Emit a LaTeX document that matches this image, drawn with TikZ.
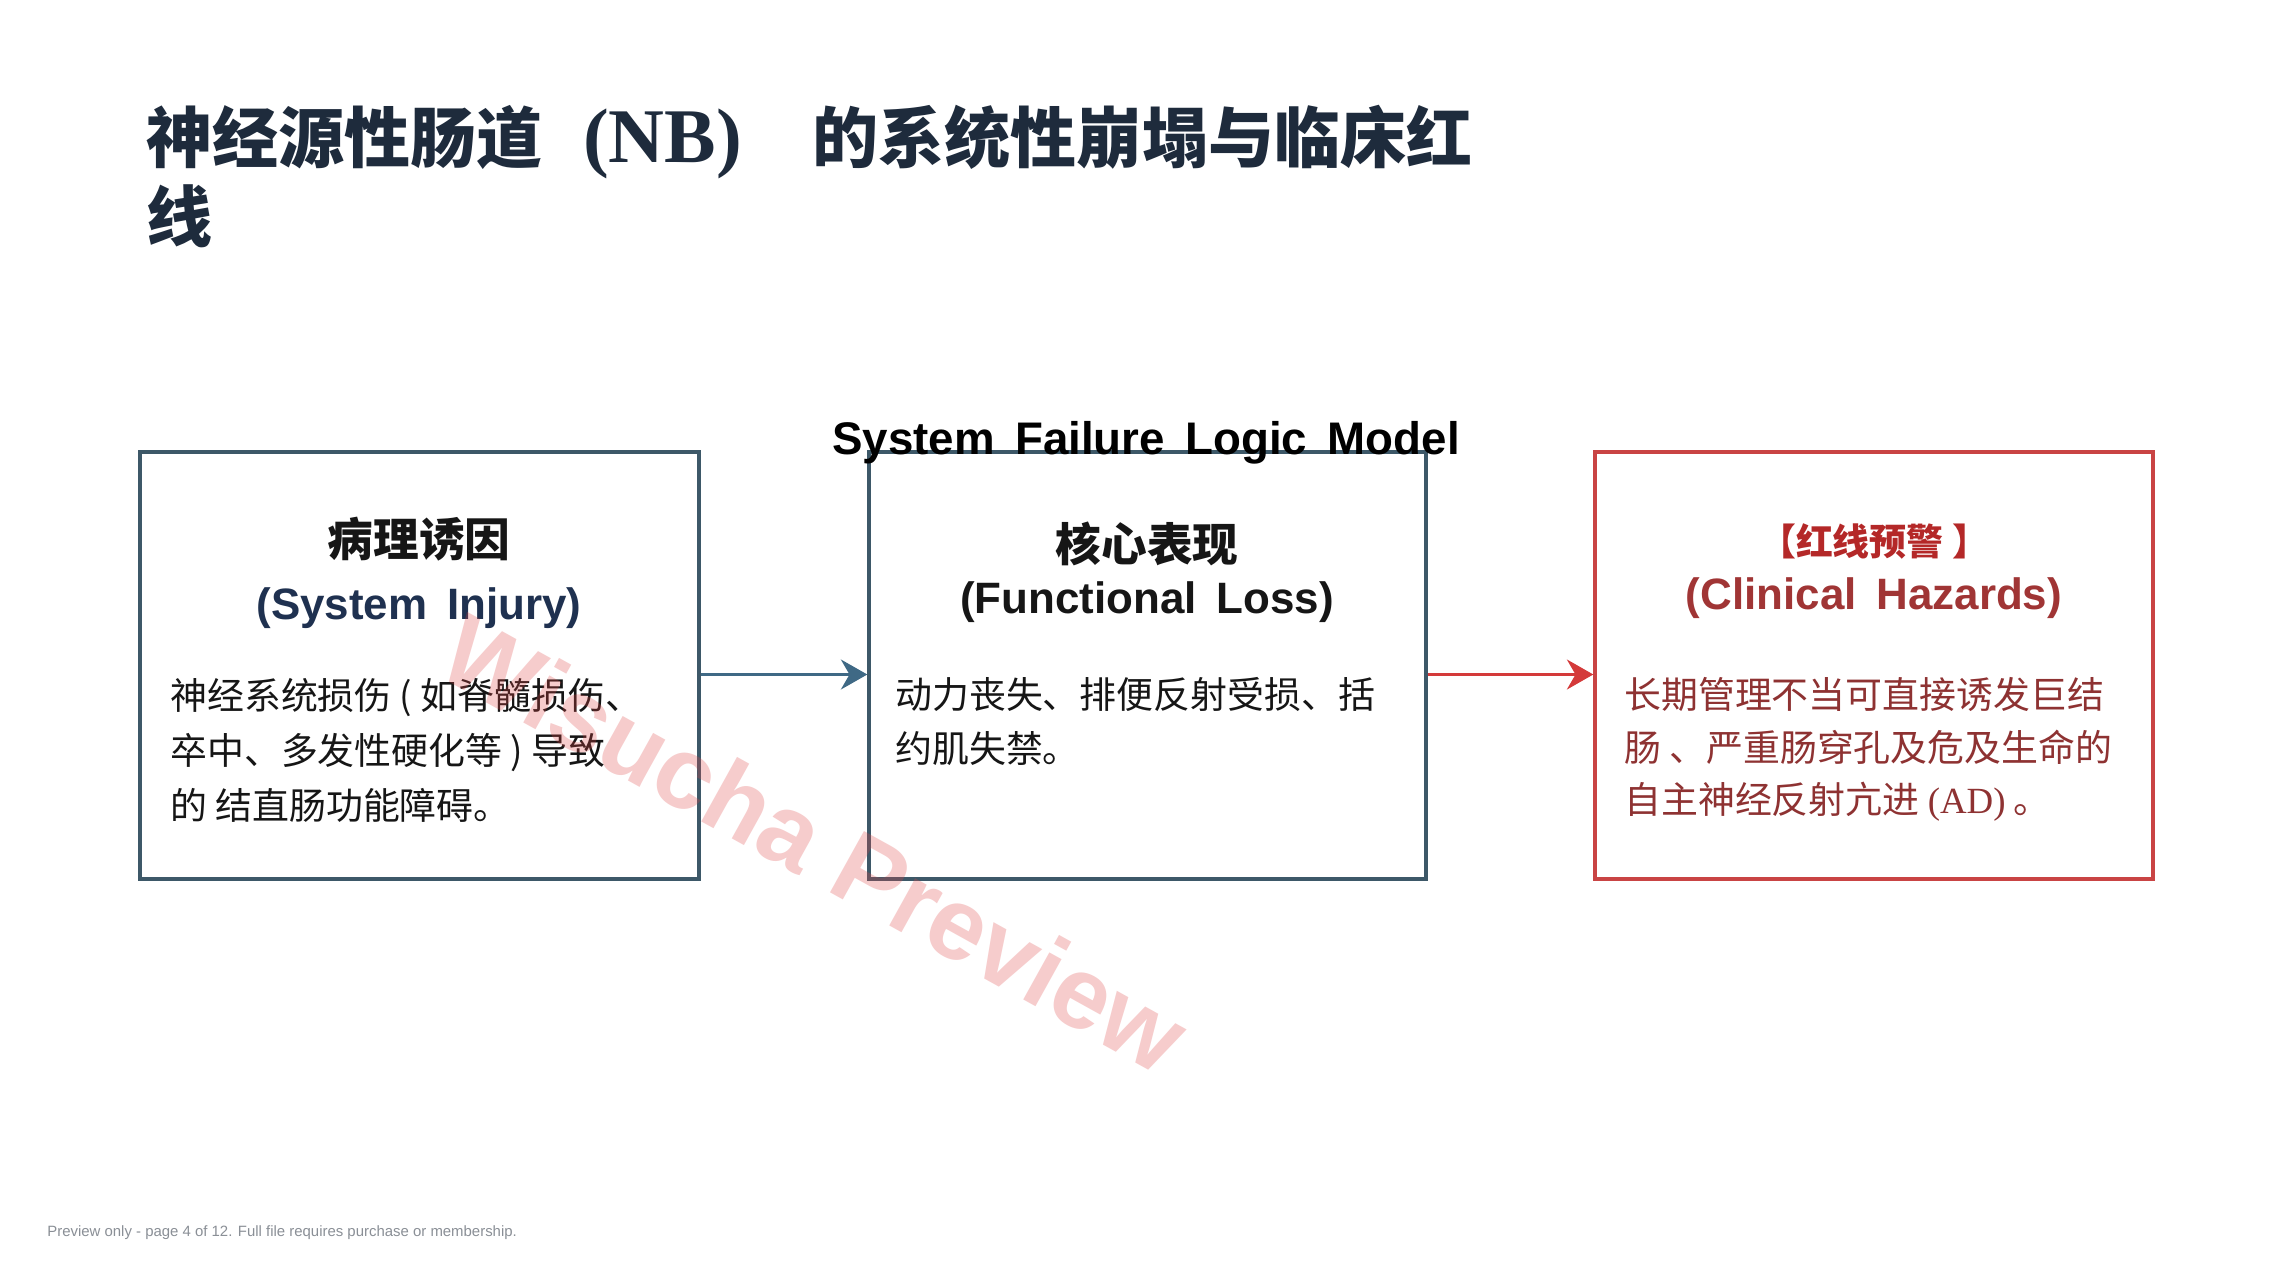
\documentclass[tikz,border=0pt]{standalone}
\usepackage{fontspec}
\setmainfont{Liberation Sans}
\newfontfamily\cjk{Noto Sans CJK SC}
\newfontfamily\serifnb{Liberation Serif}
\usetikzlibrary{arrows.meta}
\definecolor{navy}{HTML}{1E2B3C}
\definecolor{subnavy}{HTML}{1F3150}
\definecolor{slate}{HTML}{3D5868}
\definecolor{arrowblue}{HTML}{3F6985}
\definecolor{boxred}{HTML}{C94444}
\definecolor{arrowred}{HTML}{D43A3A}
\definecolor{hazred}{HTML}{A03535}
\definecolor{headred}{HTML}{B42828}
\definecolor{bodyred}{HTML}{8E3232}
\definecolor{inkdark}{HTML}{161616}
\definecolor{footgrey}{HTML}{8A8F96}
\definecolor{wmark}{HTML}{E04848}
\newcommand{\wsp}{\hspace{0.45em}}
\begin{document}
\begin{tikzpicture}[x=0.02cm,y=-0.02cm,
  panel/.style={draw=slate,line width=2pt,inner sep=0pt,minimum height=8.54cm},
  redpanel/.style={panel,draw=boxred},
  headcn/.style={font=\cjk\bfseries\fontsize{26}{30}\selectfont,inner sep=0pt},
  heade/.style={font=\bfseries\fontsize{25}{30}\selectfont,inner sep=0pt},
  bodytext/.style={align=left,anchor=north west,inner sep=0pt},
  flowarrow/.style={line width=1.8pt,-{Stealth[length=15pt,width=17pt]}}
]
\fill[white] (0,0) rectangle (2294,1280);
\useasboundingbox (0,0) rectangle (2294,1280);

% title
\node[anchor=west,inner sep=0pt,text=navy,font=\cjk\bfseries\fontsize{37.6}{45}\selectfont] (title1) at (146,142)
  {神经源性肠道\hspace{23pt}{\serifnb\bfseries\fontsize{44}{45}\selectfont (NB)}\hspace{40pt}的系统性崩塌与临床红};
\node[anchor=west,inner sep=0pt,text=navy,font=\cjk\bfseries\fontsize{37.6}{45}\selectfont] (title2) at (146,216) {线};

% panels
\node[panel,minimum width=11.18cm] (b1) at (419.5,665.5) {};
\node[panel,minimum width=11.14cm] (b2) at (1147.5,665.5) {};
\node[redpanel,minimum width=11.16cm] (b3) at (1874,665.5) {};

% model title
\node[inner sep=0pt,text=black,font=\bfseries\fontsize{26}{30}\selectfont] (model) at (1146,443)
  {System\wsp Failure\wsp Logic\wsp Model};

% headings
\node[headcn,text=inkdark] (h1a) at (419,539) {病理诱因};
\node[heade,text=subnavy] (h1b) at (419,608) {(System\wsp Injury)};
\node[headcn,text=inkdark] (h2a) at (1147,544) {核心表现};
\node[heade,text=inkdark] (h2b) at (1147,602) {(Functional\wsp Loss)};
\node[inner sep=0pt,text=headred,font=\cjk\bfseries\fontsize{21}{26}\selectfont] (h3a) at (1874,541) {【红线预警 】};
\node[heade,text=hazred] (h3b) at (1874,598) {(Clinical\wsp Hazards)};

% body texts
\node[bodytext,text=inkdark,font=\cjk\fontsize{21}{31.3}\selectfont] (t1) at (170,678)
  {神经系统损伤 ( 如脊髓损伤、\\卒中、多发性硬化等 ) 导致\\的 结直肠功能障碍。};
\node[bodytext,text=inkdark,font=\cjk\fontsize{21}{30.8}\selectfont] (t2) at (895,677)
  {动力丧失、排便反射受损、括\\约肌失禁。};
\node[bodytext,text=bodyred,font=\cjk\fontsize{21}{30}\selectfont] (t3) at (1624,677)
  {长期管理不当可直接诱发巨结\\肠 、严重肠穿孔及危及生命的\\自主神经反射亢进 {\serifnb (AD)} 。};

% connectors
\draw[flowarrow,draw=arrowblue,fill=arrowblue] ([yshift=-0.18cm]b1.east) -- ([yshift=-0.18cm]b2.west);
\draw[flowarrow,draw=arrowred,fill=arrowred] ([yshift=-0.18cm]b2.east) -- ([yshift=-0.18cm]b3.west);

% footer
\node[anchor=west,inner sep=0pt,text=footgrey,font=\fontsize{8.5}{10}\selectfont] (foot) at (47,1233)
  {Preview only - page 4 of 12. Full file requires purchase or membership.};

% watermark
\node[rotate=-29,inner sep=0pt,text=wmark,opacity=0.28,font=\bfseries\fontsize{58}{60}\selectfont] (wm) at (815,843)
  {Wisucha Preview};
\end{tikzpicture}
\end{document}
